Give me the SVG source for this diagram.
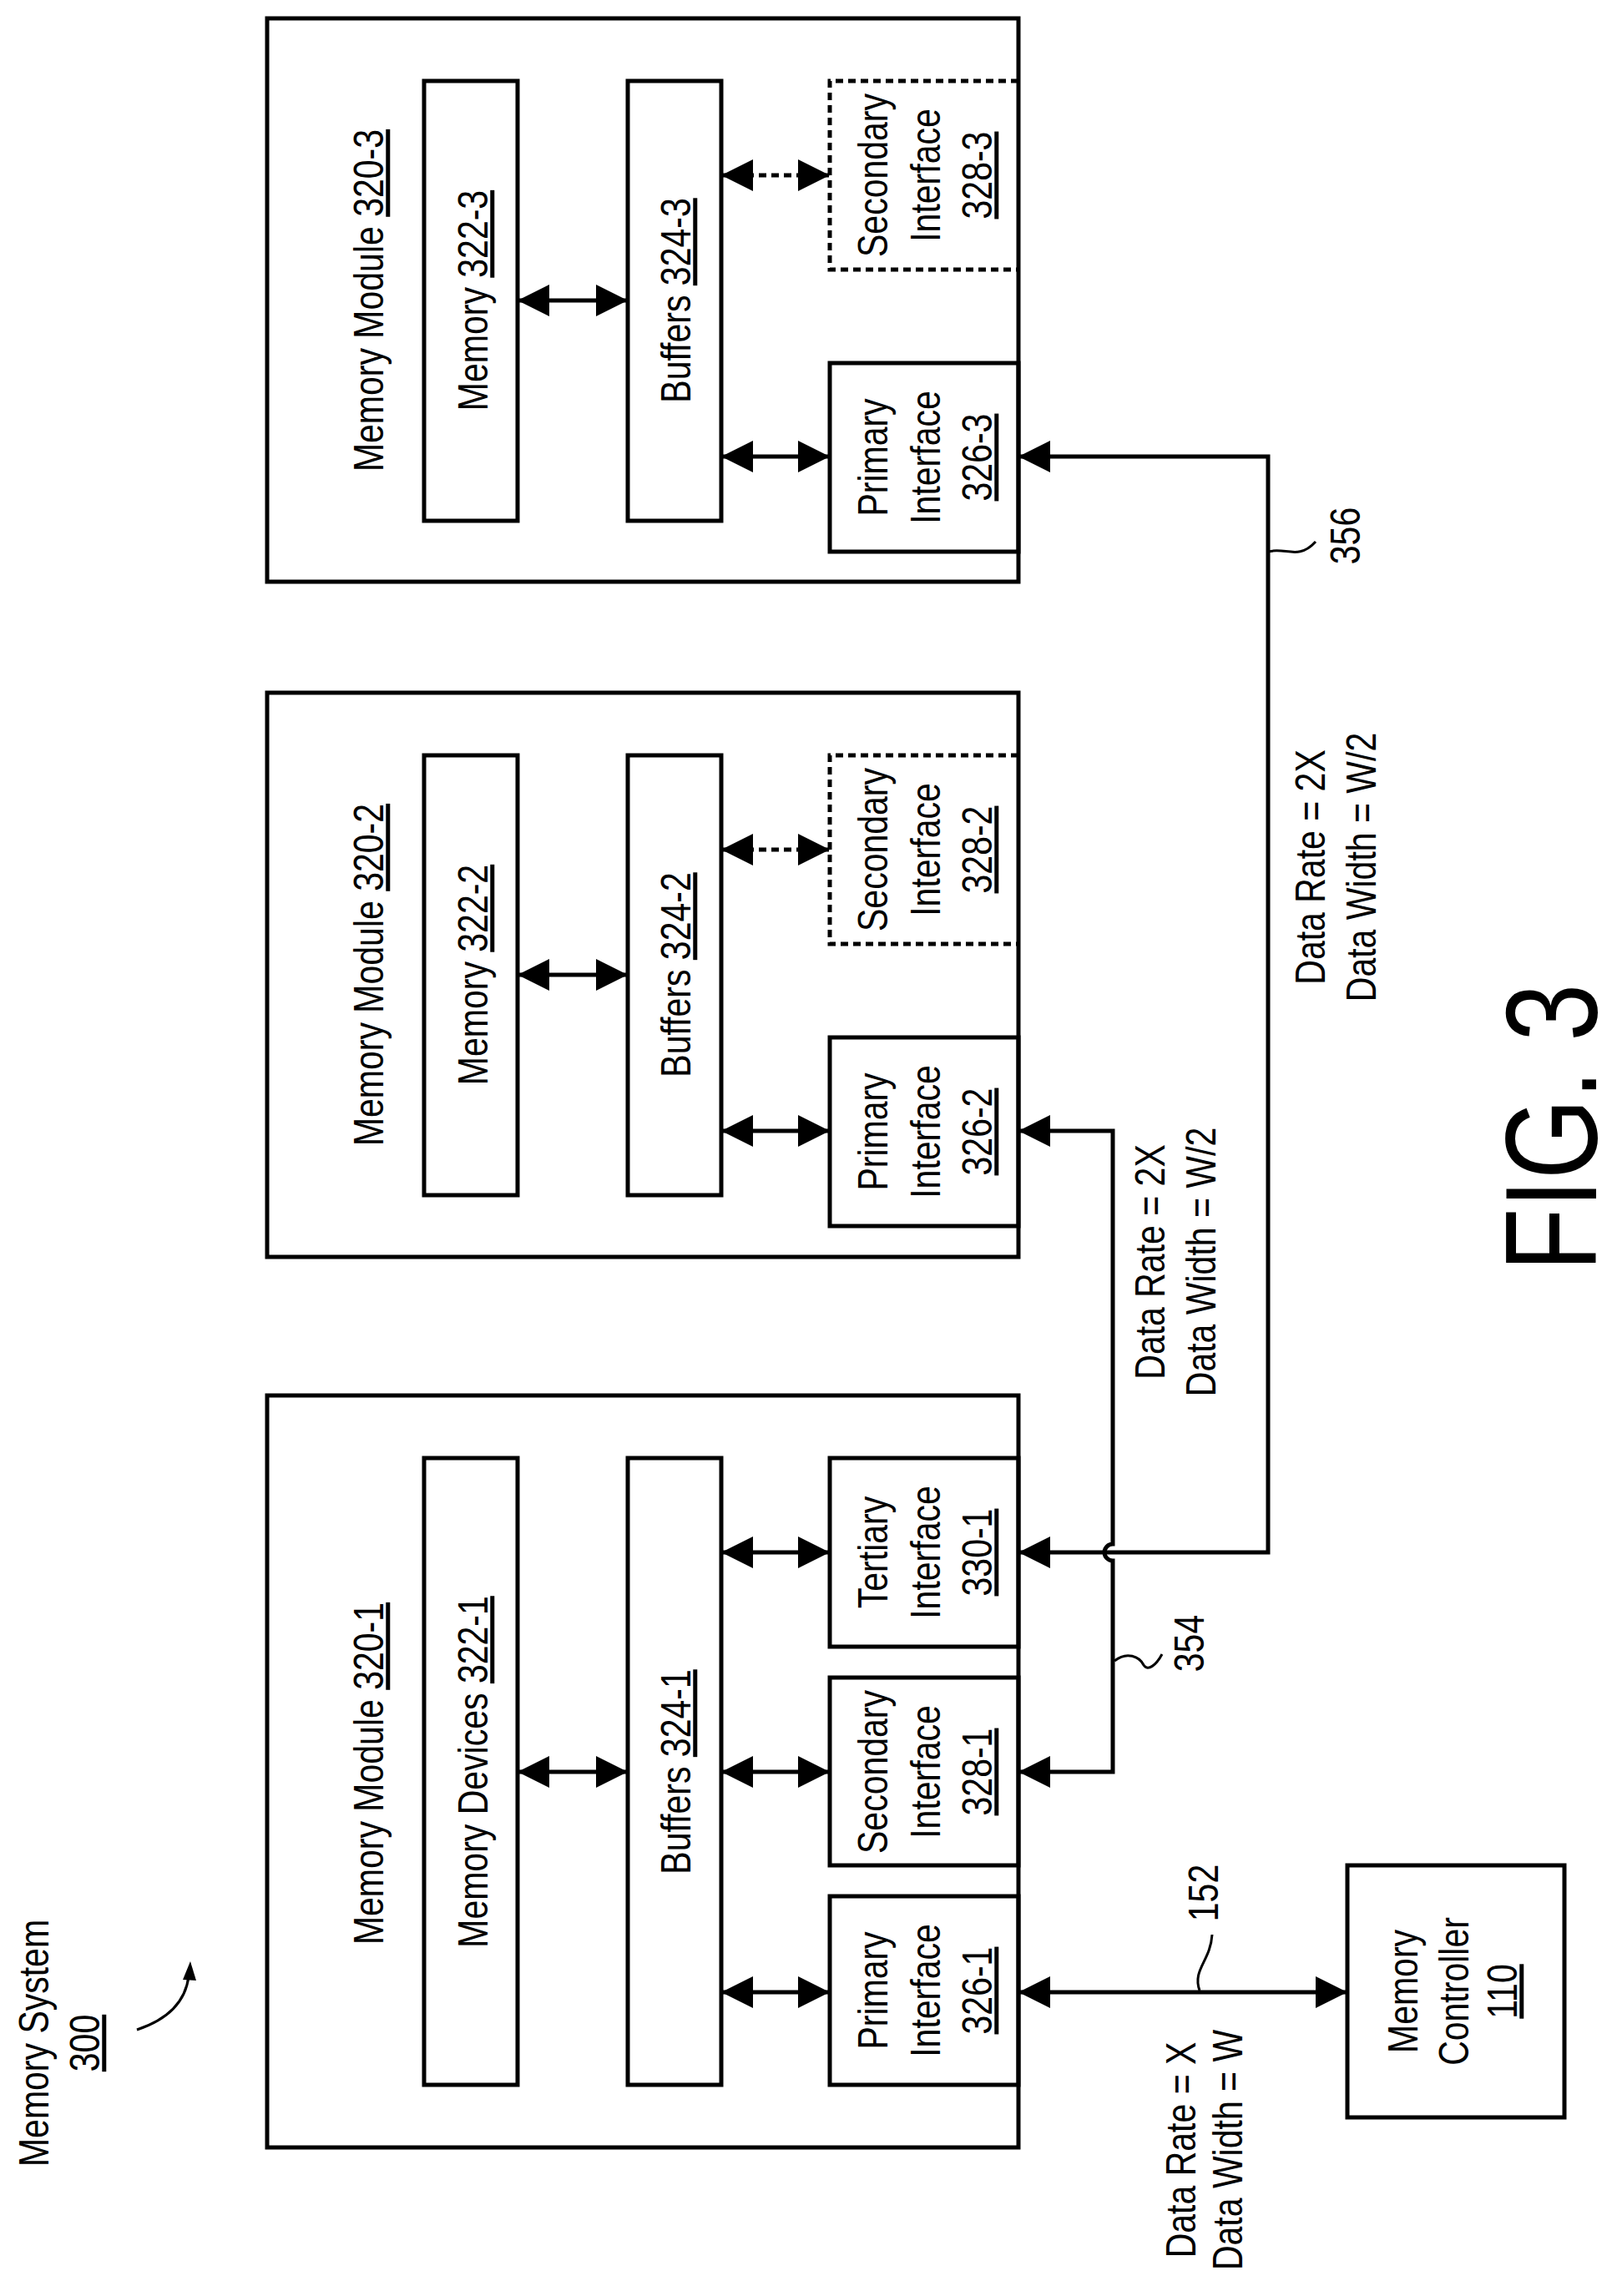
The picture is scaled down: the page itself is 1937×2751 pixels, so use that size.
<svg xmlns="http://www.w3.org/2000/svg" width="1937" height="2751" viewBox="0 0 1937 2751">
<style>
.b{fill:none;stroke:#000;stroke-width:5}
.d{fill:none;stroke:#000;stroke-width:5;stroke-dasharray:9 6}
.t{font-family:"Liberation Sans",Arial,sans-serif;font-size:50px;text-anchor:middle;fill:#000}
.u{text-decoration:underline}
.c{fill:none;stroke:#000;stroke-width:5}
.s{fill:none;stroke:#000;stroke-width:3}
</style>
<defs>
<marker id="a" viewBox="0 0 10 10" refX="10" refY="5" markerUnits="userSpaceOnUse" markerWidth="38" markerHeight="40" orient="auto-start-reverse"><path d="M0,0 L10,5 L0,10 z" fill="#000"/></marker>
</defs>
<rect width="1937" height="2751" fill="#fff"/>

<g id="system-label">
<text class="t" transform="translate(58,2448) rotate(-90) scale(0.82,1)">Memory System</text>
<text class="t" transform="translate(119,2448) rotate(-90) scale(0.82,1)"><tspan class="u">300</tspan></text>
</g>

<g id="module-320-3">
<rect class="b" x="320" y="22" width="900" height="675"/>
<text class="t" transform="translate(459,360) rotate(-90) scale(0.82,1)">Memory Module <tspan class="u">320-3</tspan></text>
</g>
<g id="memory-322-3"><rect class="b" x="508" y="97" width="112" height="527"/>
<text class="t" transform="translate(584,360) rotate(-90) scale(0.82,1)">Memory <tspan class="u">322-3</tspan></text></g>
<g id="buffers-324-3"><rect class="b" x="752" y="97" width="112" height="527"/>
<text class="t" transform="translate(827,360) rotate(-90) scale(0.82,1)">Buffers <tspan class="u">324-3</tspan></text></g>
<g id="secondary-328-3"><path class="d" d="M1220,97 H994 V323 H1220"/>
<text class="t" transform="translate(1063,210) rotate(-90) scale(0.82,1)">Secondary</text>
<text class="t" transform="translate(1126,210) rotate(-90) scale(0.82,1)">Interface</text>
<text class="t" transform="translate(1188,210) rotate(-90) scale(0.82,1)"><tspan class="u">328-3</tspan></text></g>
<g id="primary-326-3"><rect class="b" x="994" y="435" width="226" height="226"/>
<text class="t" transform="translate(1063,548) rotate(-90) scale(0.82,1)">Primary</text>
<text class="t" transform="translate(1126,548) rotate(-90) scale(0.82,1)">Interface</text>
<text class="t" transform="translate(1188,548) rotate(-90) scale(0.82,1)"><tspan class="u">326-3</tspan></text></g>

<g id="module-320-2">
<rect class="b" x="320" y="830" width="900" height="676"/>
<text class="t" transform="translate(459,1168) rotate(-90) scale(0.82,1)">Memory Module <tspan class="u">320-2</tspan></text>
</g>
<g id="memory-322-2"><rect class="b" x="508" y="905" width="112" height="527"/>
<text class="t" transform="translate(584,1168) rotate(-90) scale(0.82,1)">Memory <tspan class="u">322-2</tspan></text></g>
<g id="buffers-324-2"><rect class="b" x="752" y="905" width="112" height="527"/>
<text class="t" transform="translate(827,1168) rotate(-90) scale(0.82,1)">Buffers <tspan class="u">324-2</tspan></text></g>
<g id="secondary-328-2"><path class="d" d="M1220,905 H994 V1131 H1220"/>
<text class="t" transform="translate(1063,1018) rotate(-90) scale(0.82,1)">Secondary</text>
<text class="t" transform="translate(1126,1018) rotate(-90) scale(0.82,1)">Interface</text>
<text class="t" transform="translate(1188,1018) rotate(-90) scale(0.82,1)"><tspan class="u">328-2</tspan></text></g>
<g id="primary-326-2"><rect class="b" x="994" y="1243" width="226" height="226"/>
<text class="t" transform="translate(1063,1356) rotate(-90) scale(0.82,1)">Primary</text>
<text class="t" transform="translate(1126,1356) rotate(-90) scale(0.82,1)">Interface</text>
<text class="t" transform="translate(1188,1356) rotate(-90) scale(0.82,1)"><tspan class="u">326-2</tspan></text></g>

<g id="module-320-1">
<rect class="b" x="320" y="1672" width="900" height="901"/>
<text class="t" transform="translate(459,2125) rotate(-90) scale(0.82,1)">Memory Module <tspan class="u">320-1</tspan></text>
</g>
<g id="memory-322-1"><rect class="b" x="508" y="1747" width="112" height="751"/>
<text class="t" transform="translate(584,2123) rotate(-90) scale(0.82,1)">Memory Devices <tspan class="u">322-1</tspan></text></g>
<g id="buffers-324-1"><rect class="b" x="752" y="1747" width="112" height="751"/>
<text class="t" transform="translate(827,2123) rotate(-90) scale(0.82,1)">Buffers <tspan class="u">324-1</tspan></text></g>
<g id="tertiary-330-1"><rect class="b" x="994" y="1747" width="226" height="226"/>
<text class="t" transform="translate(1063,1860) rotate(-90) scale(0.82,1)">Tertiary</text>
<text class="t" transform="translate(1126,1860) rotate(-90) scale(0.82,1)">Interface</text>
<text class="t" transform="translate(1188,1860) rotate(-90) scale(0.82,1)"><tspan class="u">330-1</tspan></text></g>
<g id="secondary-328-1"><rect class="b" x="994" y="2010" width="226" height="225"/>
<text class="t" transform="translate(1063,2123) rotate(-90) scale(0.82,1)">Secondary</text>
<text class="t" transform="translate(1126,2123) rotate(-90) scale(0.82,1)">Interface</text>
<text class="t" transform="translate(1188,2123) rotate(-90) scale(0.82,1)"><tspan class="u">328-1</tspan></text></g>
<g id="primary-326-1"><rect class="b" x="994" y="2272" width="226" height="226"/>
<text class="t" transform="translate(1063,2385) rotate(-90) scale(0.82,1)">Primary</text>
<text class="t" transform="translate(1126,2385) rotate(-90) scale(0.82,1)">Interface</text>
<text class="t" transform="translate(1188,2385) rotate(-90) scale(0.82,1)"><tspan class="u">326-1</tspan></text></g>

<g id="memory-controller-110"><rect class="b" x="1614" y="2235" width="260" height="302"/>
<text class="t" transform="translate(1698,2386) rotate(-90) scale(0.82,1)">Memory</text>
<text class="t" transform="translate(1759,2386) rotate(-90) scale(0.82,1)">Controller</text>
<text class="t" transform="translate(1817,2386) rotate(-90) scale(0.82,1)"><tspan class="u">110</tspan></text></g>

<g id="connectors">
<path class="c" d="M620,360 H752" marker-start="url(#a)" marker-end="url(#a)"/>
<path class="d" d="M864,210 H994" marker-start="url(#a)" marker-end="url(#a)"/>
<path class="c" d="M864,547 H994" marker-start="url(#a)" marker-end="url(#a)"/>
<path class="c" d="M620,1168 H752" marker-start="url(#a)" marker-end="url(#a)"/>
<path class="d" d="M864,1018 H994" marker-start="url(#a)" marker-end="url(#a)"/>
<path class="c" d="M864,1355 H994" marker-start="url(#a)" marker-end="url(#a)"/>
<path class="c" d="M620,2123 H752" marker-start="url(#a)" marker-end="url(#a)"/>
<path class="c" d="M864,1860 H994" marker-start="url(#a)" marker-end="url(#a)"/>
<path class="c" d="M864,2123 H994" marker-start="url(#a)" marker-end="url(#a)"/>
<path class="c" d="M864,2387 H994" marker-start="url(#a)" marker-end="url(#a)"/>
<path class="c" d="M1220,1355 H1333 V1850 A10,10 0 0 0 1333,1870 V2123 H1220" marker-start="url(#a)" marker-end="url(#a)"/>
<path class="c" d="M1220,547 H1519 V1860 H1220" marker-start="url(#a)" marker-end="url(#a)"/>
<path class="c" d="M1220,2387 H1614" marker-start="url(#a)" marker-end="url(#a)"/>
<path class="s" d="M1335,1990 C1350,1978 1365,1985 1370,1995 C1375,2003 1385,1995 1392,1982"/>
<path class="s" d="M1519,661 C1540,655 1555,672 1576,649"/>
<path class="s" d="M1437,2385 C1428,2360 1450,2350 1452,2318"/>
<path class="s" d="M164,2432 C200,2420 222,2400 226,2368"/>
<path d="M219,2372 L228,2350 L235,2373 z" fill="#000"/>
</g>

<g id="labels">
<text class="t" transform="translate(1442,1969) rotate(-90) scale(0.82,1)">354</text>
<text class="t" transform="translate(1629,642) rotate(-90) scale(0.82,1)">356</text>
<text class="t" transform="translate(1459,2268) rotate(-90) scale(0.82,1)">152</text>
<text class="t" transform="translate(1395,1512) rotate(-90) scale(0.82,1)">Data Rate = 2X</text>
<text class="t" transform="translate(1456,1512) rotate(-90) scale(0.82,1)">Data Width = W/2</text>
<text class="t" transform="translate(1587,1039) rotate(-90) scale(0.82,1)">Data Rate = 2X</text>
<text class="t" transform="translate(1648,1039) rotate(-90) scale(0.82,1)">Data Width = W/2</text>
<text class="t" transform="translate(1432,2576) rotate(-90) scale(0.82,1)">Data Rate = X</text>
<text class="t" transform="translate(1488,2576) rotate(-90) scale(0.82,1)">Data Width = W</text>
<text class="t" style="font-size:155px" transform="translate(1912,1351) rotate(-90) scale(0.8,1)">FIG. 3</text>
</g>
</svg>
